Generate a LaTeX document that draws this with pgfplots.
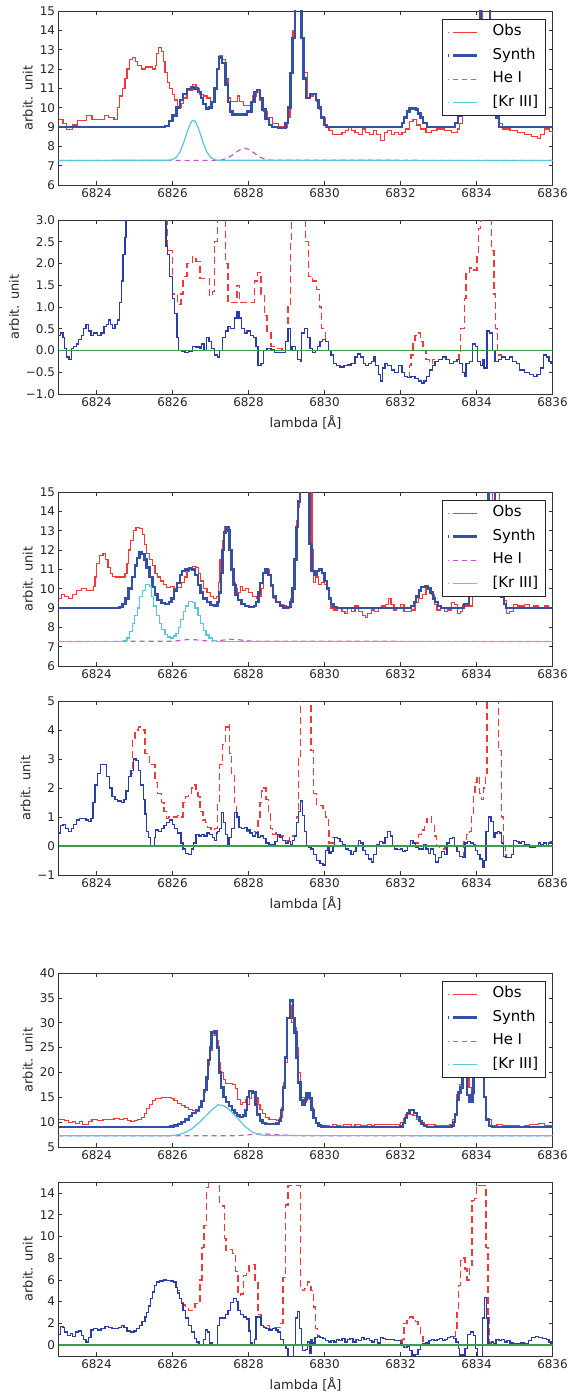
\documentclass[border=0pt]{standalone}
\usepackage{fontspec}
\setmainfont{DejaVu Sans}
\usepackage{pgfplots}
\pgfplotsset{compat=1.18}
\usepackage{pgfplotstable}

\definecolor{obsred}{RGB}{245,55,55}
\definecolor{synthblue}{RGB}{50,80,165}
\definecolor{heicol}{RGB}{200,85,200}
\definecolor{krcol}{RGB}{85,200,220}
\definecolor{resblue}{RGB}{40,60,170}
\definecolor{zerogreen}{RGB}{55,160,75}

% ---------------- Panel 1 ----------------
\pgfplotstableread{
x y
6823.00 9.4
6823.12 9.2
6823.21 8.85
6823.36 9.1
6823.50 9.35
6823.74 9.6
6823.88 9.4
6824.22 9.6
6824.32 9.5
6824.46 9.4
6824.56 10.0
6824.60 10.6
6824.68 11.0
6824.75 11.5
6824.80 12.0
6824.87 12.5
6824.94 12.6
6825.02 12.4
6825.08 12.2
6825.18 12.0
6825.28 12.1
6825.37 12.1
6825.47 12.0
6825.55 12.2
6825.58 12.8
6825.64 13.1
6825.71 12.9
6825.76 12.4
6825.80 11.8
6825.87 11.3
6825.93 11.0
6826.00 10.7
6826.06 10.4
6826.14 10.0
6826.24 10.2
6826.28 10.5
6826.38 10.9
6826.52 11.2
6826.62 11.0
6826.72 10.7
6826.81 10.6
6826.91 10.5
6827.00 10.3
6827.10 11.0
6827.15 12.0
6827.24 12.7
6827.31 12.5
6827.39 11.5
6827.46 10.5
6827.53 10.3
6827.63 10.3
6827.70 10.6
6827.77 10.3
6827.87 10.1
6828.01 10.1
6828.11 10.6
6828.20 10.8
6828.30 10.4
6828.40 9.8
6828.49 9.5
6828.64 9.2
6828.78 9.0
6828.92 9.0
6829.02 9.5
6829.09 11.0
6829.14 12.5
6829.17 14.0
6829.21 16
6829.43 13.5
6829.48 11.8
6829.55 10.5
6829.64 10.6
6829.71 10.7
6829.79 10.3
6829.87 9.9
6829.93 9.5
6830.03 9.0
6830.12 8.8
6830.22 8.6
6830.32 8.6
6830.46 8.7
6830.56 8.8
6830.63 9.0
6830.70 8.8
6830.80 8.7
6830.89 8.6
6830.99 8.9
6831.08 8.7
6831.18 8.6
6831.28 8.8
6831.37 8.6
6831.47 8.3
6831.57 8.7
6831.66 8.8
6831.76 8.6
6831.85 8.7
6831.95 8.6
6832.04 8.7
6832.14 8.9
6832.24 9.3
6832.33 9.4
6832.43 9.1
6832.53 8.9
6832.67 8.7
6832.81 8.8
6832.96 8.9
6833.15 8.8
6833.34 8.7
6833.49 8.9
6833.55 9.2
6833.63 10.0
6833.75 11.5
6833.90 12.5
6834.05 14.0
6834.15 16
6834.35 14
6834.45 11
6834.50 9.6
6834.60 9.2
6834.69 8.9
6834.88 8.8
6835.07 8.7
6835.26 8.6
6835.45 8.5
6835.60 8.4
6835.69 8.6
6835.79 8.9
6835.93 8.75
6836.00 8.6
}\obsA

\pgfplotstableread{
x y
6823.00 9.0
6825.80 9.05
6825.90 9.3
6826.00 9.6
6826.10 10.0
6826.20 10.4
6826.28 10.7
6826.38 10.95
6826.48 11.05
6826.57 11.0
6826.67 10.8
6826.75 10.5
6826.81 10.2
6826.88 9.95
6826.96 10.0
6827.03 10.3
6827.10 11.0
6827.17 12.0
6827.22 12.6
6827.31 12.3
6827.39 11.2
6827.46 10.3
6827.51 9.8
6827.58 9.65
6827.96 9.8
6828.08 10.3
6828.16 10.8
6828.22 10.9
6828.30 10.5
6828.37 9.9
6828.45 9.4
6828.54 9.1
6828.62 9.0
6828.78 8.95
6828.97 9.2
6829.04 10.0
6829.10 11.8
6829.16 13.6
6829.22 16
6829.39 13.6
6829.45 11.5
6829.52 10.5
6829.62 10.7
6829.77 10.4
6829.84 10.0
6829.90 9.5
6829.98 9.1
6830.06 9.0
6832.04 9.2
6832.09 9.5
6832.17 9.8
6832.24 9.95
6832.40 9.9
6832.46 9.7
6832.53 9.5
6832.59 9.2
6832.69 9.0
6833.44 9.2
6833.51 9.6
6833.58 10.3
6833.70 11.5
6833.80 12.5
6833.95 14
6834.10 16
6834.35 14
6834.45 11
6834.52 9.5
6834.59 9.0
6836.00 9.0
}\synA

\pgfplotstableread{
x y
6823.0 7.27
6827.2 7.27
6827.3 7.30
6827.4 7.36
6827.5 7.45
6827.6 7.58
6827.7 7.73
6827.8 7.85
6827.9 7.90
6828.0 7.85
6828.1 7.73
6828.2 7.58
6828.3 7.45
6828.4 7.36
6828.5 7.30
6828.6 7.28
6836.0 7.27
}\heA

\pgfplotstableread{
x y
6823.0 7.27
6825.9 7.28
6826.0 7.32
6826.1 7.44
6826.2 7.72
6826.3 8.22
6826.4 8.84
6826.5 9.29
6826.55 9.35
6826.6 9.29
6826.7 8.84
6826.8 8.22
6826.9 7.72
6827.0 7.44
6827.1 7.32
6827.2 7.28
6836.0 7.27
}\krA

% ---------------- Panel 2 ----------------
\pgfplotstableread{
x y
6823.00 0.35
6823.05 0.4
6823.115 0.3
6823.16 0.05
6823.21 -0.15
6823.28 -0.2
6823.34 0.05
6823.40 0.1
6823.47 0.15
6823.53 0.25
6823.60 0.35
6823.66 0.5
6823.72 0.6
6823.79 0.45
6823.855 0.35
6823.93 0.4
6824.03 0.35
6824.12 0.4
6824.20 0.55
6824.27 0.6
6824.315 0.7
6824.36 0.6
6824.43 0.5
6824.49 0.6
6824.555 0.7
6824.60 1.1
6824.65 1.6
6824.70 2.2
6824.75 2.6
6824.78 3.5
6825.83 2.4
6825.87 2.2
6825.93 1.7
6826.00 1.2
6826.06 0.85
6826.12 0.3
6826.16 0.0
6826.24 -0.03
6826.33 -0.05
6826.43 -0.02
6826.52 0.1
6826.62 0.08
6826.72 0.05
6826.76 0.15
6826.83 0.0
6826.89 0.3
6826.96 0.2
6827.02 0.05
6827.10 -0.1
6827.18 -0.15
6827.24 0.0
6827.31 0.3
6827.39 0.45
6827.46 0.55
6827.53 0.5
6827.63 0.75
6827.70 0.9
6827.75 0.75
6827.82 0.5
6827.89 0.4
6827.96 0.45
6828.06 0.35
6828.14 0.3
6828.20 0.1
6828.25 -0.35
6828.33 -0.3
6828.40 0.0
6828.49 0.05
6828.59 0.02
6828.68 -0.05
6828.97 0.2
6829.04 0.5
6829.10 0.0
6829.145 0.1
6829.23 0.0
6829.29 -0.2
6829.36 -0.25
6829.40 0.4
6829.48 0.5
6829.55 0.3
6829.62 0.05
6829.69 -0.05
6829.76 0.0
6829.82 0.1
6829.88 0.2
6829.95 0.25
6830.03 0.2
6830.11 0.0
6830.17 -0.1
6830.24 -0.3
6830.32 -0.35
6830.41 -0.38
6830.51 -0.35
6830.60 -0.33
6830.70 -0.3
6830.80 -0.15
6830.87 -0.08
6830.94 -0.15
6831.02 -0.3
6831.085 -0.35
6831.15 -0.3
6831.23 -0.25
6831.305 -0.15
6831.35 -0.35
6831.42 -0.55
6831.47 -0.7
6831.52 -0.4
6831.59 -0.3
6831.66 -0.35
6831.76 -0.45
6831.85 -0.5
6831.95 -0.35
6832.04 -0.5
6832.11 -0.6
6832.19 -0.62
6832.28 -0.6
6832.38 -0.65
6832.48 -0.7
6832.55 -0.75
6832.62 -0.7
6832.69 -0.6
6832.76 -0.45
6832.84 -0.35
6832.91 -0.25
6833.00 -0.2
6833.10 -0.15
6833.20 -0.2
6833.29 -0.3
6833.39 -0.25
6833.485 -0.2
6833.55 -0.3
6833.63 -0.5
6833.68 -0.6
6833.725 -0.3
6833.82 -0.25
6833.89 0.15
6833.965 0.1
6834.03 -0.25
6834.11 -0.35
6834.16 -0.2
6834.20 -0.4
6834.28 0.45
6834.35 0.4
6834.42 0.0
6834.49 -0.25
6834.57 -0.2
6834.66 -0.15
6834.76 -0.2
6834.86 -0.15
6834.95 -0.25
6835.05 -0.3
6835.14 -0.45
6835.26 -0.5
6835.40 -0.55
6835.50 -0.6
6835.59 -0.55
6835.69 -0.4
6835.76 -0.1
6835.84 -0.15
6835.91 -0.25
6835.96 -0.3
6836.00 -0.3
}\resB

% ---------------- Panel 3 ----------------
\pgfplotstableread{
x y
6823.00 9.5
6823.07 9.7
6823.16 9.6
6823.26 9.5
6823.36 9.7
6823.47 9.9
6823.60 10.0
6823.74 9.9
6823.92 10.1
6823.96 10.6
6824.01 11.3
6824.08 11.7
6824.17 11.8
6824.24 11.5
6824.30 11.1
6824.37 10.8
6824.43 10.65
6824.51 10.6
6824.65 10.6
6824.75 10.8
6824.80 11.3
6824.84 12.0
6824.89 12.5
6824.97 13.0
6825.04 13.15
6825.13 13.1
6825.20 12.8
6825.26 12.3
6825.32 11.8
6825.39 11.5
6825.47 11.2
6825.54 10.8
6825.61 10.6
6825.68 10.4
6825.76 10.2
6825.85 10.05
6825.95 10.1
6826.04 10.0
6826.14 10.05
6826.23 10.3
6826.31 10.6
6826.38 10.9
6826.45 11.1
6826.53 11.15
6826.62 11.1
6826.69 10.8
6826.74 10.4
6826.81 10.0
6826.91 9.8
6827.00 9.6
6827.08 9.5
6827.15 9.6
6827.20 10.3
6827.25 11.5
6827.31 12.5
6827.37 13.2
6827.44 13.0
6827.49 12.0
6827.53 11.0
6827.58 10.3
6827.66 10.0
6827.72 9.8
6827.79 10.1
6827.85 9.9
6827.92 10.0
6828.01 9.8
6828.11 9.6
6828.20 9.5
6828.27 9.6
6828.33 10.0
6828.40 10.8
6828.46 11.0
6828.54 10.7
6828.59 10.1
6828.66 9.5
6828.73 9.3
6828.83 9.2
6828.92 9.1
6829.00 9.0
6829.07 9.3
6829.12 9.5
6829.16 10.0
6829.21 11.5
6829.26 13.5
6829.31 14.2
6829.35 16
6829.67 12
6829.71 10.3
6829.77 10.6
6829.84 10.2
6829.88 10.2
6829.93 10.3
6830.00 10.2
6830.06 10.0
6830.12 9.5
6830.17 9.0
6830.25 8.9
6830.35 9.0
6830.46 8.8
6830.54 8.7
6830.61 9.0
6830.70 8.8
6830.80 9.1
6830.89 8.8
6830.99 8.6
6831.07 8.5
6831.13 8.7
6831.23 8.9
6831.32 8.8
6831.42 9.0
6831.51 9.1
6831.61 9.2
6831.69 9.5
6831.75 9.2
6831.83 8.9
6831.90 9.0
6831.99 9.2
6832.09 8.8
6832.18 8.8
6832.28 8.9
6832.38 9.3
6832.47 9.5
6832.57 9.7
6832.67 10.1
6832.74 10.0
6832.81 9.7
6832.89 9.2
6832.96 8.9
6833.05 9.0
6833.15 8.8
6833.24 8.9
6833.34 9.3
6833.43 9.2
6833.51 8.7
6833.58 8.8
6833.63 9.2
6833.72 9.1
6833.90 10
6834.10 12
6834.30 14
6834.42 16
6834.60 12
6834.72 9.4
6834.78 8.7
6834.87 8.8
6834.97 9.2
6835.07 9.1
6835.26 9.2
6835.40 9.0
6835.50 9.1
6835.64 9.0
6835.79 9.1
6835.88 9.0
6836.00 9.0
}\obsC

\pgfplotstableread{
x y
6823.00 9.0
6824.61 9.05
6824.68 9.2
6824.76 9.5
6824.84 10.0
6824.94 10.6
6825.01 11.2
6825.07 11.6
6825.13 11.9
6825.20 11.8
6825.26 11.5
6825.32 11.1
6825.39 10.6
6825.47 10.1
6825.54 9.7
6825.61 9.4
6825.71 9.25
6825.80 9.2
6825.90 9.3
6825.97 9.5
6826.04 9.9
6826.12 10.3
6826.19 10.7
6826.25 10.9
6826.33 11.0
6826.43 11.05
6826.52 11.0
6826.59 10.7
6826.67 10.2
6826.74 9.8
6826.81 9.5
6826.91 9.3
6827.00 9.15
6827.10 9.1
6827.18 9.3
6827.23 9.8
6827.27 10.8
6827.32 12.0
6827.36 12.9
6827.41 13.2
6827.47 13.0
6827.50 12.0
6827.55 11.0
6827.60 10.2
6827.66 9.7
6827.72 9.4
6827.82 9.2
6827.91 9.1
6828.01 9.05
6828.14 9.1
6828.19 9.3
6828.26 9.8
6828.31 10.3
6828.38 10.8
6828.45 11.0
6828.51 10.7
6828.59 10.2
6828.65 9.6
6828.73 9.3
6828.83 9.1
6828.92 9.0
6829.02 9.05
6829.11 9.3
6829.16 10.0
6829.21 11.5
6829.26 13.2
6829.31 14.5
6829.35 16
6829.60 12.3
6829.66 10.9
6829.74 10.7
6829.79 10.9
6829.86 11.0
6829.93 10.8
6830.00 10.4
6830.06 10.0
6830.12 9.5
6830.17 9.2
6830.24 9.05
6830.32 9.0
6832.28 9.1
6832.35 9.3
6832.41 9.6
6832.48 9.9
6832.54 10.1
6832.64 10.15
6832.72 10.0
6832.79 9.8
6832.85 9.5
6832.91 9.3
6832.98 9.1
6833.06 9.0
6833.67 9.2
6833.80 10.5
6834.00 12.5
6834.20 14.5
6834.32 16
6834.48 13
6834.58 10.5
6834.66 9.6
6834.73 9.2
6834.78 9.0
6836.00 9.0
}\synC

\pgfplotstableread{
x y
6823.0 7.27
6826.0 7.28
6826.2 7.32
6826.4 7.37
6826.6 7.36
6826.8 7.31
6827.0 7.29
6827.3 7.33
6827.5 7.38
6827.7 7.37
6827.9 7.32
6828.1 7.28
6836.0 7.27
}\heC

\pgfplotstableread{
x y
6823.00 7.27
6824.70 7.3
6824.80 7.45
6824.87 7.8
6824.94 8.2
6825.01 8.6
6825.07 9.0
6825.13 9.6
6825.20 9.9
6825.28 10.2
6825.39 10.1
6825.45 9.6
6825.51 9.1
6825.58 8.6
6825.66 8.2
6825.72 7.9
6825.80 7.65
6825.87 7.5
6825.95 7.45
6826.02 7.55
6826.09 7.7
6826.16 8.0
6826.22 8.4
6826.28 8.8
6826.35 9.1
6826.43 9.35
6826.52 9.3
6826.59 9.0
6826.67 8.6
6826.74 8.2
6826.81 7.85
6826.88 7.6
6826.96 7.45
6827.05 7.32
6827.15 7.28
6827.25 7.27
6836.00 7.27
}\krC

% ---------------- Panel 4 ----------------
\pgfplotstableread{
x y
6823.00 0.45
6823.05 0.7
6823.115 0.75
6823.18 0.6
6823.26 0.5
6823.34 0.6
6823.40 0.75
6823.47 0.9
6823.55 0.95
6823.72 0.9
6823.79 0.85
6823.855 0.95
6823.91 1.5
6823.96 2.1
6824.03 2.5
6824.10 2.8
6824.27 2.4
6824.335 2.0
6824.41 1.7
6824.49 1.6
6824.555 1.55
6824.65 1.5
6824.72 1.6
6824.78 1.9
6824.84 2.4
6824.91 2.6
6824.97 3.0
6825.04 2.95
6825.10 2.6
6825.16 2.1
6825.23 1.6
6825.275 1.1
6825.32 0.5
6825.37 0.3
6825.42 0.0
6825.52 0.3
6825.56 0.55
6825.64 0.5
6825.71 0.6
6825.78 0.7
6825.85 0.8
6825.93 0.9
6826.00 0.75
6826.06 0.6
6826.14 0.45
6826.22 0.1
6826.28 -0.1
6826.35 -0.25
6826.43 -0.3
6826.50 -0.1
6826.55 0.1
6826.62 0.4
6826.70 0.35
6826.76 0.4
6826.83 0.35
6826.91 0.45
6826.98 0.4
6827.05 0.3
6827.10 0.2
6827.15 0.45
6827.19 0.5
6827.24 0.6
6827.29 1.15
6827.34 0.8
6827.39 0.4
6827.44 0.0
6827.485 0.3
6827.55 0.6
6827.63 1.15
6827.70 1.0
6827.75 0.65
6827.82 0.6
6827.89 0.65
6827.96 0.55
6828.04 0.45
6828.11 0.35
6828.18 0.45
6828.25 0.3
6828.32 0.35
6828.40 0.25
6828.46 0.1
6828.54 0.05
6828.70 0.15
6828.76 0.4
6828.83 0.3
6828.89 0.2
6828.97 0.1
6829.04 0.15
6829.10 0.05
6829.165 0.2
6829.21 0.35
6829.26 0.8
6829.31 1.2
6829.36 1.55
6829.42 1.05
6829.47 0.5
6829.52 0.0
6829.58 -0.05
6829.645 -0.1
6829.71 -0.3
6829.79 -0.5
6829.88 -0.6
6829.96 -0.65
6830.03 -0.15
6830.075 0.0
6830.12 -0.25
6830.17 -0.2
6830.22 0.0
6830.27 0.3
6830.345 0.25
6830.41 0.15
6830.48 0.05
6830.56 -0.1
6830.63 -0.15
6830.70 -0.3
6830.77 -0.2
6830.825 0.0
6830.89 0.2
6830.94 0.1
6831.01 -0.15
6831.085 -0.3
6831.15 -0.45
6831.23 -0.55
6831.295 -0.3
6831.37 0.05
6831.44 0.15
6831.52 0.1
6831.59 0.3
6831.66 0.5
6831.73 0.35
6831.785 0.0
6831.85 -0.1
6831.93 -0.12
6831.995 -0.1
6832.06 -0.2
6832.12 -0.15
6832.19 0.0
6832.27 0.2
6832.33 0.1
6832.40 -0.05
6832.48 -0.1
6832.60 0.05
6832.67 -0.1
6832.74 -0.25
6832.79 -0.1
6832.86 -0.3
6832.93 -0.55
6833.00 -0.4
6833.07 -0.2
6833.15 -0.3
6833.22 0.1
6833.29 0.25
6833.36 0.3
6833.42 0.0
6833.485 -0.2
6833.55 -0.35
6833.63 -0.4
6833.70 0.1
6833.77 0.15
6833.84 0.1
6833.92 0.05
6833.965 -0.15
6834.03 -0.3
6834.09 -0.45
6834.16 -0.75
6834.20 -0.5
6834.25 0.5
6834.32 1.0
6834.38 0.85
6834.445 0.3
6834.49 0.45
6834.56 0.5
6834.61 0.45
6834.66 0.1
6834.71 -0.35
6834.78 -0.4
6834.92 -0.3
6834.97 0.2
6835.05 0.15
6835.12 0.1
6835.19 0.15
6835.26 0.05
6835.40 -0.05
6835.55 0.0
6835.63 0.1
6835.69 0.05
6835.76 0.1
6835.84 0.0
6835.90 0.1
6835.96 0.15
6836.00 0.15
}\resD

% ---------------- Panel 5 ----------------
\pgfplotstableread{
x y
6823.00 10.5
6823.09 10.6
6823.16 10.3
6823.26 10.0
6823.36 10.1
6823.45 9.8
6823.55 10.1
6823.64 9.6
6823.72 9.5
6823.79 10.2
6823.88 10.5
6824.03 10.4
6824.17 10.6
6824.315 10.5
6824.46 10.7
6824.60 10.6
6824.72 10.8
6824.81 10.3
6824.91 10.1
6825.01 10.3
6825.08 10.6
6825.18 11.0
6825.26 11.8
6825.32 12.8
6825.39 13.6
6825.47 14.3
6825.56 14.8
6825.71 15.0
6825.97 14.8
6826.04 14.3
6826.14 13.8
6826.24 13.3
6826.33 13.0
6826.43 12.6
6826.52 12.4
6826.62 12.2
6826.70 13.0
6826.76 14.2
6826.81 16.0
6826.87 18.5
6826.94 21.5
6826.98 24.5
6827.05 27.5
6827.12 28.3
6827.18 26.5
6827.22 22.0
6827.27 20.0
6827.34 18.5
6827.39 17.8
6827.48 17.7
6827.58 17.5
6827.66 16.8
6827.72 14.6
6827.79 13.5
6827.85 14.0
6827.92 14.5
6827.96 13.5
6828.02 14.8
6828.08 16.0
6828.16 16.0
6828.20 15.0
6828.25 13.5
6828.30 12.5
6828.37 11.8
6828.45 11.0
6828.54 10.6
6828.64 10.5
6828.73 10.3
6828.81 11.0
6828.88 13.0
6828.92 18.0
6828.97 22.0
6829.02 31.0
6829.09 33.5
6829.14 30.0
6829.21 29.0
6829.26 25.0
6829.31 20.0
6829.36 17.5
6829.40 15.0
6829.48 14.0
6829.53 15.5
6829.60 14.5
6829.66 13.0
6829.71 11.0
6829.77 10.0
6829.84 9.5
6829.93 9.3
6830.03 9.4
6830.12 9.2
6830.22 9.5
6830.32 9.3
6830.41 9.2
6830.51 9.6
6830.60 9.5
6830.70 9.2
6830.80 9.5
6830.94 9.3
6831.04 9.4
6831.13 9.6
6831.23 9.4
6831.32 9.5
6831.90 9.6
6831.995 10.0
6832.07 10.8
6832.14 11.5
6832.24 11.6
6832.33 11.3
6832.43 10.6
6832.525 10.0
6832.62 9.6
6832.76 9.5
6832.91 9.4
6833.05 9.3
6833.29 9.6
6833.36 10.5
6833.42 11.5
6833.485 15.5
6833.55 17.5
6833.62 21
6833.72 23
6833.80 17
6833.87 15
6833.93 22
6834.00 30
6834.10 33
6834.18 25
6834.22 15
6834.25 10.5
6834.40 9.4
6834.54 9.5
6834.69 9.4
6834.83 9.3
6835.12 9.1
6835.26 9.3
6835.40 9.6
6835.64 9.7
6835.78 9.4
6835.93 9.3
6836.00 9.3
}\obsE

\pgfplotstableread{
x y
6823.00 9.0
6825.95 9.1
6826.04 9.3
6826.14 9.6
6826.24 10.0
6826.33 10.5
6826.43 11.2
6826.52 11.8
6826.62 12.4
6826.70 13.0
6826.76 14.2
6826.83 16.5
6826.89 19.0
6826.94 22.5
6826.98 25.0
6827.03 28.0
6827.10 28.2
6827.17 25.0
6827.22 20.0
6827.27 17.0
6827.34 15.0
6827.41 14.0
6827.48 13.2
6827.56 12.5
6827.63 11.8
6827.70 11.3
6827.77 11.0
6827.85 11.3
6827.92 12.5
6827.96 15.0
6828.02 16.3
6828.11 16.0
6828.18 13.5
6828.23 11.5
6828.30 10.3
6828.37 9.8
6828.45 9.6
6828.73 9.7
6828.80 10.3
6828.85 12.5
6828.91 17.0
6828.96 23.0
6829.02 31.0
6829.09 34.5
6829.165 31.0
6829.21 28.0
6829.26 23.0
6829.31 18.0
6829.37 14.5
6829.42 13.5
6829.48 14.5
6829.53 15.8
6829.60 14.8
6829.66 12.5
6829.71 10.8
6829.77 9.8
6829.84 9.3
6829.90 9.1
6829.98 9.0
6831.995 9.1
6832.06 9.8
6832.12 10.8
6832.17 11.8
6832.24 12.5
6832.30 12.4
6832.36 11.8
6832.43 11.0
6832.50 10.2
6832.555 9.6
6832.62 9.2
6832.69 9.0
6833.34 9.2
6833.39 10.0
6833.44 11.5
6833.485 14.5
6833.53 16.0
6833.58 17.0
6833.63 20.0
6833.70 22.0
6833.755 15.5
6833.82 14.0
6833.89 16.0
6833.92 22.0
6834.00 30.0
6834.10 35.0
6834.16 25.0
6834.205 15.0
6834.25 10.5
6834.33 9.2
6834.40 9.0
6836.00 9.0
}\synE

\pgfplotstableread{
x y
6823.0 7.27
6827.7 7.28
6827.9 7.38
6828.1 7.52
6828.3 7.60
6828.5 7.60
6828.7 7.52
6828.9 7.42
6829.1 7.33
6829.3 7.28
6836.0 7.27
}\heE

\pgfplotstableread{
x y
6823.0 7.27
6825.9 7.28
6826.1 7.40
6826.3 7.80
6826.5 8.60
6826.7 9.90
6826.9 11.40
6827.05 12.60
6827.2 13.50
6827.35 13.30
6827.5 12.50
6827.7 10.90
6827.9 9.20
6828.1 8.00
6828.3 7.45
6828.5 7.30
6836.0 7.27
}\krE

% ---------------- Panel 6 ----------------
\pgfplotstableread{
x y
6823.00 1.0
6823.05 1.7
6823.115 1.6
6823.16 1.2
6823.23 0.9
6823.31 1.1
6823.37 0.8
6823.45 1.2
6823.53 1.3
6823.60 0.9
6823.66 0.5
6823.72 0.3
6823.79 0.7
6823.855 1.4
6823.93 1.5
6824.03 1.4
6824.12 1.5
6824.22 1.7
6824.315 1.6
6824.41 1.5
6824.58 1.6
6824.65 1.8
6824.72 1.6
6824.80 1.3
6824.89 1.2
6824.99 1.3
6825.06 1.5
6825.13 1.8
6825.20 2.2
6825.275 2.6
6825.32 3.0
6825.37 3.6
6825.42 4.3
6825.47 4.9
6825.52 5.5
6825.58 5.8
6825.66 5.9
6825.76 6.0
6825.85 5.95
6825.95 5.9
6826.02 5.8
6826.09 5.3
6826.14 4.8
6826.19 4.3
6826.24 3.8
6826.28 3.2
6826.35 2.5
6826.43 1.8
6826.50 1.2
6826.57 0.6
6826.64 0.3
6826.70 0.0
6826.81 0.5
6826.86 1.4
6826.93 1.2
6826.98 0.2
6827.05 0.0
6827.18 1.8
6827.24 2.5
6827.39 2.8
6827.46 3.2
6827.53 3.9
6827.60 4.3
6827.68 4.0
6827.72 3.2
6827.79 2.8
6827.87 2.6
6827.94 2.4
6828.01 1.3
6828.06 0.2
6828.11 0.0
6828.16 0.5
6828.20 2.6
6828.33 1.8
6828.40 1.6
6828.46 1.5
6828.54 1.4
6828.64 1.5
6828.72 1.4
6828.78 1.2
6828.85 0.5
6828.92 0.0
6828.99 -0.3
6829.04 -1.5
6829.19 0.0
6829.23 2.5
6829.29 3.1
6829.34 1.5
6829.39 0.0
6829.43 -0.5
6829.50 -0.4
6829.55 0.3
6829.60 -0.8
6829.645 0.5
6829.69 0.2
6829.75 0.7
6829.82 0.8
6829.88 0.7
6829.96 0.6
6830.03 0.4
6830.11 0.3
6830.17 0.4
6830.25 0.3
6830.32 0.5
6830.38 0.4
6830.46 0.6
6830.54 0.3
6830.60 0.5
6830.67 0.6
6830.75 0.3
6830.825 0.5
6830.89 0.4
6830.97 0.7
6831.04 0.5
6831.11 0.6
6831.18 0.4
6831.25 0.3
6831.32 0.5
6831.39 0.2
6831.47 0.7
6831.54 0.6
6831.61 0.5
6831.85 0.45
6831.95 0.4
6831.995 0.1
6832.04 0.0
6832.09 -0.2
6832.17 -0.1
6832.24 -0.5
6832.30 -0.9
6832.38 -0.85
6832.46 -0.4
6832.525 0.0
6832.59 0.1
6832.67 0.2
6832.75 0.4
6832.81 0.5
6832.88 0.4
6832.96 0.5
6833.03 0.6
6833.10 0.4
6833.17 0.5
6833.245 0.7
6833.32 0.8
6833.39 0.6
6833.46 0.3
6833.52 -0.3
6833.55 -0.9
6833.70 -0.3
6833.77 1.0
6833.84 1.2
6833.92 0.9
6833.965 -0.3
6834.03 -1.5
6834.16 2.5
6834.205 4.4
6834.26 2.5
6834.30 0.2
6834.35 0.0
6834.40 0.3
6834.445 0.1
6834.51 0.5
6834.59 0.4
6834.66 0.5
6834.73 0.3
6834.80 0.4
6834.88 0.2
6834.97 0.1
6835.16 0.2
6835.26 0.1
6835.36 0.4
6835.45 0.7
6835.55 0.8
6835.64 0.7
6835.74 0.6
6835.84 0.5
6835.91 0.3
6835.96 0.1
6836.00 0.1
}\resF

\pgfplotsset{
  specax/.style={
    scale only axis, width=494bp, height=174bp,
    xmin=6823, xmax=6836,
    xtick={6824,6826,6828,6830,6832,6834,6836},
    xticklabels={6824,6826,6828,6830,6832,6834,6836},
    tick align=inside,
    major tick length=4bp,
    axis line style={black!80, line width=0.8bp},
    tick style={black!80, line width=0.6bp},
    tick label style={font=\fontsize{12}{12}\selectfont, text=black!85},
    label style={font=\fontsize{13}{14}\selectfont, text=black!85},
    ylabel={arbit. unit},
    anchor=north west,
    legend image code/.code={\path (0bp,0bp) -- (0.1bp,0bp); \draw[##1] (4.5bp,0bp) -- (28.5bp,0bp);},
    legend cell align=left,
    legend style={at={(rel axis cs:1,1)}, anchor=north east, xshift=-6.5bp, yshift=-8bp,
      draw=black!85, line width=0.8bp, fill=white,
      font=\fontsize{15}{15}\selectfont,
      inner xsep=5bp, inner ysep=3bp, row sep=4bp,
      nodes={text height=11bp, text depth=3.5bp, inner sep=2.5bp},
      /tikz/every odd column/.append style={column sep=12bp}},
  },
  resax/.style={specax, xlabel={lambda [Å]},
    xlabel style={at={(axis description cs:0.5,0)}, anchor=north, yshift=-18bp}},
  obsst/.style={const plot, color=obsred, line width=1.2bp},
  synst/.style={const plot, color=synthblue, line width=2.4bp},
  hest/.style={color=heicol, line width=1.2bp, dash pattern=on 5bp off 4bp},
  krst/.style={color=krcol, line width=1.2bp},
  rbst/.style={const plot, color=resblue, line width=1.3bp},
  rrst/.style={const plot, color=obsred, line width=1.3bp, dash pattern=on 7bp off 4bp},
  zst/.style={color=zerogreen, line width=1.3bp},
}

\begin{document}
\begin{tikzpicture}
\useasboundingbox (0bp,0bp) rectangle (573bp,-1395bp);

% Panel 1
\begin{axis}[specax, at={(58.5bp,-11bp)}, ymin=6, ymax=15,
  ytick={6,7,8,9,10,11,12,13,14,15}, yticklabels={6,7,8,9,10,11,12,13,14,15}]
\addplot[obsst] table {\obsA}; \addlegendentry{Obs}
\addplot[synst] table {\synA}; \addlegendentry{Synth}
\addplot[hest] table {\heA}; \addlegendentry{He I}
\addplot[krst] table {\krA}; \addlegendentry{\relax[Kr III]}
\end{axis}

% Panel 2
\begin{axis}[resax, at={(58.5bp,-220bp)}, ymin=-1, ymax=3,
  ytick={-1,-0.5,0,0.5,1,1.5,2,2.5,3},
  yticklabels={−1.0,−0.5,0.0,0.5,1.0,1.5,2.0,2.5,3.0}]
\addplot[rrst] table {\resB};
\addplot[rrst] table {
x y
6825.80 3.5
6825.87 2.3
6826.00 1.3
6826.14 1.05
6826.22 1.3
6826.28 1.7
6826.38 2.0
6826.52 2.15
6826.62 2.05
6826.72 1.65
6826.86 1.65
6826.98 1.25
6827.05 1.35
6827.10 2.5
6827.18 3.5
6827.39 2.0
6827.46 1.1
6827.60 1.1
6827.70 1.5
6827.77 1.1
6827.87 1.1
6828.01 1.1
6828.16 1.6
6828.23 1.8
6828.33 1.3
6828.42 0.8
6828.49 0.4
6828.59 0.1
6828.74 0.05
6828.88 -0.05
6828.97 0.2
6829.04 1.0
6829.10 2.5
6829.14 3.5
6829.50 2.5
6829.58 1.7
6829.69 1.6
6829.79 1.4
6829.87 1.0
6829.93 0.5
6830.03 0.2
6830.11 0.0
6830.17 -0.1
};
\addplot[rrst] table {
x y
6832.19 -0.62
6832.24 -0.35
6832.28 -0.1
6832.33 0.2
6832.38 0.35
6832.46 0.4
6832.52 0.2
6832.59 0.0
6832.67 -0.2
6832.76 -0.3
6832.84 -0.2
6832.91 -0.25
};
\addplot[rrst] table {
x y
6833.485 -0.2
6833.54 -0.1
6833.58 0.5
6833.68 1.2
6833.72 1.8
6833.82 1.9
6833.91 1.85
6834.01 2.2
6834.06 2.8
6834.11 3.5
6834.40 2.3
6834.46 1.3
6834.50 0.5
6834.56 -0.1
6834.66 -0.15
};
\addplot[rbst] table {\resB};
\addplot[zst] coordinates {(6823,0) (6836,0)};
\end{axis}

% Panel 3
\begin{axis}[specax, at={(58.5bp,-492bp)}, ymin=6, ymax=15,
  ytick={6,7,8,9,10,11,12,13,14,15}, yticklabels={6,7,8,9,10,11,12,13,14,15}]
\addplot[obsst] table {\obsC}; \addlegendentry{Obs}
\addplot[synst] table {\synC}; \addlegendentry{Synth}
\addplot[hest] table {\heC}; \addlegendentry{He I}
\addplot[krst, const plot] table {\krC}; \addlegendentry{\relax[Kr III]}
\end{axis}

% Panel 4
\begin{axis}[resax, at={(58.5bp,-701bp)}, ymin=-1, ymax=5,
  ytick={-1,0,1,2,3,4,5}, yticklabels={−1,0,1,2,3,4,5}]
\addplot[rrst] table {\resD};
\addplot[rrst] table {
x y
6824.84 2.4
6824.89 2.5
6824.94 3.7
6825.01 4.0
6825.10 4.1
6825.23 4.0
6825.275 3.2
6825.40 2.8
6825.54 2.2
6825.61 1.8
6825.71 1.5
6825.78 1.2
6825.84 0.95
6825.90 1.0
6826.14 1.05
6826.22 1.0
6826.28 1.5
6826.35 1.7
6826.43 1.75
6826.50 2.0
6826.55 2.1
6826.62 1.9
6826.67 1.7
6826.72 1.2
6826.80 0.9
6826.86 0.8
6826.93 0.65
6827.01 0.55
6827.10 0.6
6827.19 1.5
6827.24 2.8
6827.31 3.5
6827.39 4.1
6827.46 4.2
6827.50 3.2
6827.55 2.5
6827.63 1.5
6827.68 1.0
6827.73 0.65
6827.82 0.6
6827.96 0.5
6828.18 0.45
6828.25 0.9
6828.30 1.5
6828.35 1.9
6828.40 2.0
6828.46 1.6
6828.52 1.1
6828.57 0.6
6828.64 0.4
6828.72 0.45
6828.79 0.35
6828.93 0.2
6829.07 0.3
6829.165 0.35
6829.26 1.0
6829.31 3.0
6829.37 5.5
6829.645 3.3
6829.71 1.8
6829.79 1.4
6829.96 1.3
6830.03 1.0
6830.10 0.6
6830.12 0.1
6830.22 0.3
6830.27 0.3
};
\addplot[rrst] table {
x y
6832.33 0.1
6832.40 0.1
6832.48 0.4
6832.55 0.55
6832.63 0.8
6832.70 0.95
6832.76 1.0
6832.82 0.75
6832.89 0.35
6832.95 0.0
6833.03 -0.1
6833.10 -0.1
6833.17 0.0
6833.22 0.1
};
\addplot[rrst] table {
x y
6833.63 -0.4
6833.67 0.2
6833.74 0.4
6833.82 0.5
6833.87 1.1
6833.92 1.8
6833.96 2.2
6834.01 2.4
6834.08 1.8
6834.13 1.6
6834.19 2.0
6834.24 2.5
6834.28 5.5
6834.58 3.3
6834.66 1.0
6834.71 0.0
6834.76 -0.3
6834.78 -0.4
};
\addplot[rbst] table {\resD};
\addplot[zst] coordinates {(6823,0) (6836,0)};
\end{axis}

% Panel 5
\begin{axis}[specax, at={(58.5bp,-973bp)}, ymin=5, ymax=40,
  ytick={5,10,15,20,25,30,35,40}, yticklabels={5,10,15,20,25,30,35,40}]
\addplot[obsst] table {\obsE}; \addlegendentry{Obs}
\addplot[synst] table {\synE}; \addlegendentry{Synth}
\addplot[hest] table {\heE}; \addlegendentry{He I}
\addplot[krst] table {\krE}; \addlegendentry{\relax[Kr III]}
\end{axis}

% Panel 6
\begin{axis}[resax, at={(58.5bp,-1182bp)}, ymin=-1, ymax=15,
  ytick={0,2,4,6,8,10,12,14}, yticklabels={0,2,4,6,8,10,12,14}]
\addplot[rrst] table {\resF};
\addplot[rrst] table {
x y
6826.09 5.3
6826.14 5.0
6826.19 4.3
6826.24 4.0
6826.28 3.7
6826.35 3.5
6826.43 3.2
6826.52 3.5
6826.59 3.8
6826.67 3.8
6826.72 6.0
6826.78 9.0
6826.83 11.0
6826.89 14.5
6826.95 16
6827.24 13.0
6827.31 12.8
6827.37 9.8
6827.41 8.7
6827.48 8.8
6827.58 8.4
6827.66 6.8
6827.72 4.6
6827.79 4.7
6827.87 6.4
6827.94 6.8
6828.01 7.3
6828.11 7.4
6828.17 6.0
6828.25 2.8
6828.33 1.8
6828.40 1.7
6828.49 1.8
6828.56 1.5
6828.64 1.6
6828.85 2.0
6828.91 6.2
6828.98 12.9
6829.04 14.7
6829.36 5.3
6829.42 5.0
6829.48 5.2
6829.55 5.8
6829.60 5.4
6829.645 5.0
6829.71 3.5
6829.77 1.5
6829.82 0.9
6829.86 0.8
6829.88 0.7
};
\addplot[rrst] table {
x y
6831.995 0.3
6832.04 0.5
6832.09 2.0
6832.17 2.5
6832.24 2.6
6832.33 2.5
6832.40 2.2
6832.46 1.8
6832.525 0.8
6832.59 0.2
6832.67 0.1
6832.75 0.4
};
\addplot[rrst] table {
x y
6833.39 0.8
6833.44 1.2
6833.485 3.0
6833.53 5.5
6833.58 7.8
6833.65 8.0
6833.70 7.0
6833.75 6.0
6833.82 7.3
6833.88 13.3
6833.94 13.5
6834.00 14.6
6834.06 14.7
6834.25 9.0
6834.30 2.5
6834.35 0.2
6834.40 0.3
};
\addplot[rbst] table {\resF};
\addplot[zst] coordinates {(6823,0) (6836,0)};
\end{axis}
\end{tikzpicture}
\end{document}
